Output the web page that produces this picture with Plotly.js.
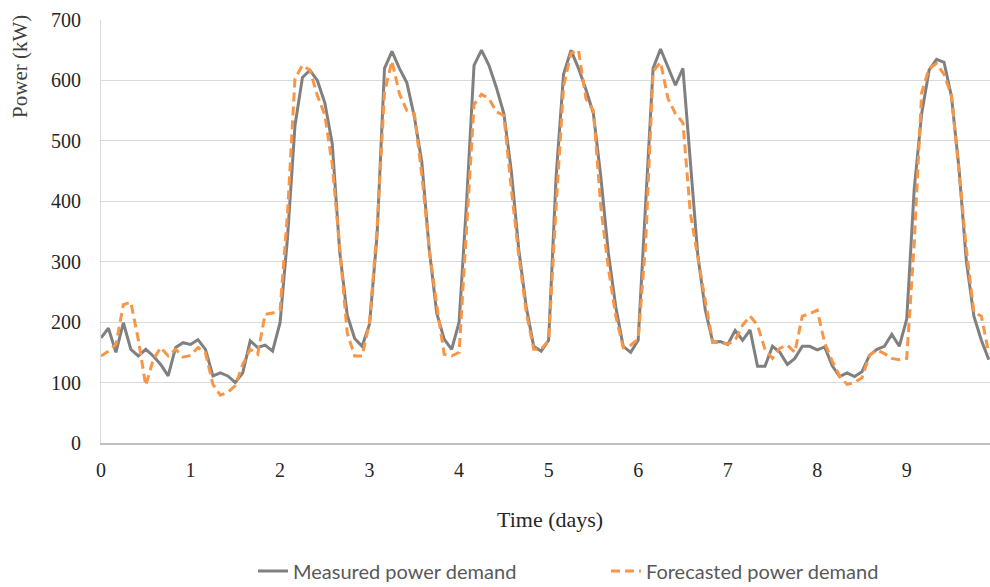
<!DOCTYPE html>
<html>
<head>
<meta charset="utf-8">
<script src="https://cdn.plot.ly/plotly-3.0.1.min.js"></script>
<style>html,body{margin:0;padding:0;background:#fff;}#chart{width:990px;height:587px;}</style>
</head>
<body>
<div id="chart"></div>
<script>
// Time step: 2 hours (1/12 day)
const stepDays = 1 / 12;
const measured = [
  174,190,150,199,155,144,155,144,130,111,158,166,
  163,171,155,111,116,111,100,116,169,158,162,152,
  199,340,525,605,617,600,563,495,316,212,173,160,
  197,343,620,648,620,596,540,465,320,215,172,155,
  200,398,625,650,625,588,545,450,320,225,160,152,
  170,440,610,650,620,585,545,440,315,225,160,150,
  170,400,620,652,623,592,620,470,310,220,167,168,
  163,186,170,187,127,127,160,150,130,140,160,160,
  154,159,128,110,116,110,118,145,155,160,180,160,
  205,420,545,617,635,630,573,455,300,210,170,138
];
const forecasted = [
  144,152,163,229,233,171,95,138,158,144,155,142,
  145,158,149,97,79,84,95,130,155,147,213,215,
  220,380,603,625,617,575,543,460,323,182,144,144,
  200,355,580,632,578,550,545,444,320,228,147,144,
  150,350,560,577,570,548,542,420,310,216,155,155,
  170,390,590,645,650,570,550,390,290,210,158,162,
  172,330,615,630,570,545,530,380,304,235,167,166,
  164,170,195,210,195,155,140,157,162,150,210,214,
  220,166,136,111,97,100,108,145,154,148,140,138,
  140,330,580,620,628,610,575,450,320,216,210,148
];
const time = measured.map((_, i) => i * stepDays);
const xTicks = [0,1,2,3,4,5,6,7,8,9];
const yTicks = [0,100,200,300,400,500,600,700];
const seriesNames = ["Measured power demand", "Forecasted power demand"];

const serif = "Liberation Serif, DejaVu Serif, serif";
const legendFont = {family: "Lato, sans-serif", size: 20, color: "#595959"};
const traces = [
  {x: time, y: measured, type: "scatter", mode: "lines", name: seriesNames[0],
   legend: "legend", line: {color: "#808080", width: 3}},
  {x: time, y: forecasted, type: "scatter", mode: "lines", name: seriesNames[1],
   legend: "legend2", line: {color: "#F79646", width: 3, dash: "9px,5px"}}
];
const layout = {
  width: 990, height: 587,
  margin: {l: 101, r: 0, t: 20, b: 144, autoexpand: false},
  paper_bgcolor: "#fff", plot_bgcolor: "#fff",
  showlegend: true,
  legend: {orientation: "h", x: 0.171, xanchor: "left", y: -0.3026, yanchor: "middle",
           font: legendFont, bgcolor: "rgba(0,0,0,0)"},
  legend2: {orientation: "h", x: 0.568, xanchor: "left", y: -0.3026, yanchor: "middle",
           font: legendFont, bgcolor: "rgba(0,0,0,0)"},
  xaxis: {range: [0, 9.93], tickvals: xTicks, ticktext: xTicks.map(String),
          showgrid: false, zeroline: false, showline: true, linecolor: "#bfbfbf", linewidth: 1.5,
          ticks: "", ticklabelstandoff: 8,
          tickfont: {family: serif, size: 20, color: "#262626"}, fixedrange: true},
  yaxis: {range: [0, 700], tickvals: yTicks, showgrid: true, gridcolor: "#d9d9d9", gridwidth: 1,
          zeroline: false, showline: true, linecolor: "#d9d9d9", linewidth: 1,
          ticks: "", ticklabelstandoff: 15,
          tickfont: {family: serif, size: 20, color: "#262626"}, fixedrange: true},
  annotations: [
    {text: "Power (kW)", xref: "paper", yref: "paper", x: -0.0911, y: 0.889,
     textangle: -90, showarrow: false, xanchor: "center", yanchor: "middle",
     font: {family: serif, size: 21, color: "#404040"}},
    {text: "Time (days)", xref: "paper", yref: "paper", x: 0.505, y: -0.182,
     showarrow: false, xanchor: "center", yanchor: "middle",
     font: {family: serif, size: 22, color: "#262626"}}
  ]
};
Plotly.newPlot("chart", traces, layout, {displayModeBar: false, staticPlot: true});
</script>
</body>
</html>
